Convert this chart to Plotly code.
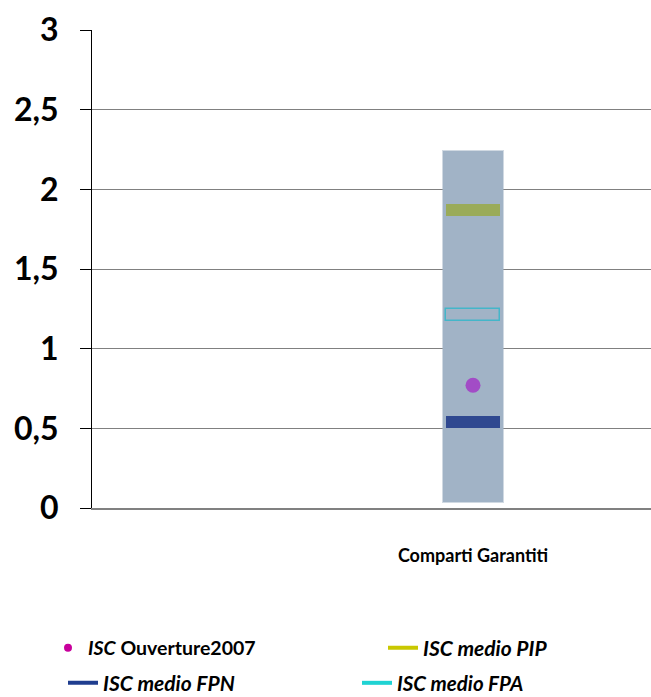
import plotly.graph_objects as go

categories = ["Comparti Garantiti"]
range_low = [0.04]
range_high = [2.24]
isc_ouverture = [0.77]
isc_pip = [1.87]
isc_fpn = [0.54]
isc_fpa = [1.21]
y_ticks = [0, 0.5, 1, 1.5, 2, 2.5, 3]

FONT = "Lato"
W, H = 651, 697
thick = 0.072
mark_w = 0.098

fig = go.Figure()

# min-max range bar
fig.add_trace(go.Bar(
    x=categories, base=range_low,
    y=[h - l for h, l in zip(range_high, range_low)],
    width=0.108, marker=dict(color="#a1b3c6", line=dict(color="rgba(161,179,198,0.5)", width=2)),
    showlegend=False, hoverinfo="skip"))

def band(vals, fill, line_color, lw):
    fig.add_trace(go.Bar(
        x=categories, base=[v - thick / 2 for v in vals], y=[thick] * len(vals),
        width=mark_w, marker=dict(color=fill, line=dict(color=line_color, width=lw)),
        showlegend=False, hoverinfo="skip"))

band(isc_pip, "#9aab59", "#9aab59", 0)
band(isc_fpa, "rgba(0,0,0,0)", "#44b6c9", 1.5)
band(isc_fpn, "#2f4890", "#2f4890", 0)

fig.add_trace(go.Scatter(
    x=categories, y=isc_ouverture, mode="markers",
    marker=dict(color="#a24cc6", size=15, line=dict(width=0)),
    showlegend=False, hoverinfo="skip"))

def lfont(size):
    return dict(family=FONT, size=size, color="#000000", weight="bold")

fig.add_trace(go.Scatter(x=[None], y=[None], mode="markers",
                         marker=dict(color="#c8009c", size=8),
                         name="<i>ISC</i> Ouverture2007", legend="legend"))
fig.add_trace(go.Scatter(x=[None], y=[None], mode="lines",
                         line=dict(color="#c9c800", width=4),
                         name="<i>ISC medio PIP</i>", legend="legend2"))
fig.add_trace(go.Scatter(x=[None], y=[None], mode="lines",
                         line=dict(color="#1f3d8f", width=4),
                         name="<i>ISC medio FPN</i>", legend="legend3"))
fig.add_trace(go.Scatter(x=[None], y=[None], mode="lines",
                         line=dict(color="#1fd3d3", width=4),
                         name="<i>ISC medio FPA</i>", legend="legend4"))

def leg(px, py, size):
    return dict(xref="container", yref="container", x=px / W, y=1 - py / H,
                xanchor="left", yanchor="middle", font=lfont(size),
                bgcolor="rgba(0,0,0,0)", itemwidth=30, borderwidth=0)

fig.update_layout(
    width=W, height=H,
    margin=dict(l=92, r=0, t=30, b=189, autoexpand=False),
    paper_bgcolor="white", plot_bgcolor="white",
    barmode="overlay", bargap=0,
    separators=", ",
    showlegend=True,
    legend=leg(48, 648, 19.5),
    legend2=leg(383, 648, 21),
    legend3=leg(63, 683, 21),
    legend4=leg(357, 683, 20.5),
    font=dict(family=FONT, color="#000000"),
)

fig.update_xaxes(
    type="category", range=[-0.6816, 0.3184],
    showgrid=False, showline=True, linecolor="#808080", linewidth=2,
    ticks="", ticklabelstandoff=30,
    tickfont=dict(family=FONT, size=18, color="#000000", weight="bold"),
    fixedrange=True, zeroline=False,
)
fig.update_yaxes(
    range=[0, 3], tickvals=y_ticks,
    showgrid=True, gridcolor="#808080", gridwidth=1,
    showline=True, linecolor="#000000", linewidth=1,
    ticks="outside", ticklen=11, tickcolor="#000000",
    tickfont=dict(family=FONT, size=32, color="#000000", weight="bold"),
    ticklabelstandoff=15, zeroline=False, fixedrange=True,
)

fig.write_html("out.html",
               config={"displayModeBar": False},
               post_script="document.body.style.margin='0';document.body.style.overflow='hidden';"
                           "document.documentElement.style.overflow='hidden';")
